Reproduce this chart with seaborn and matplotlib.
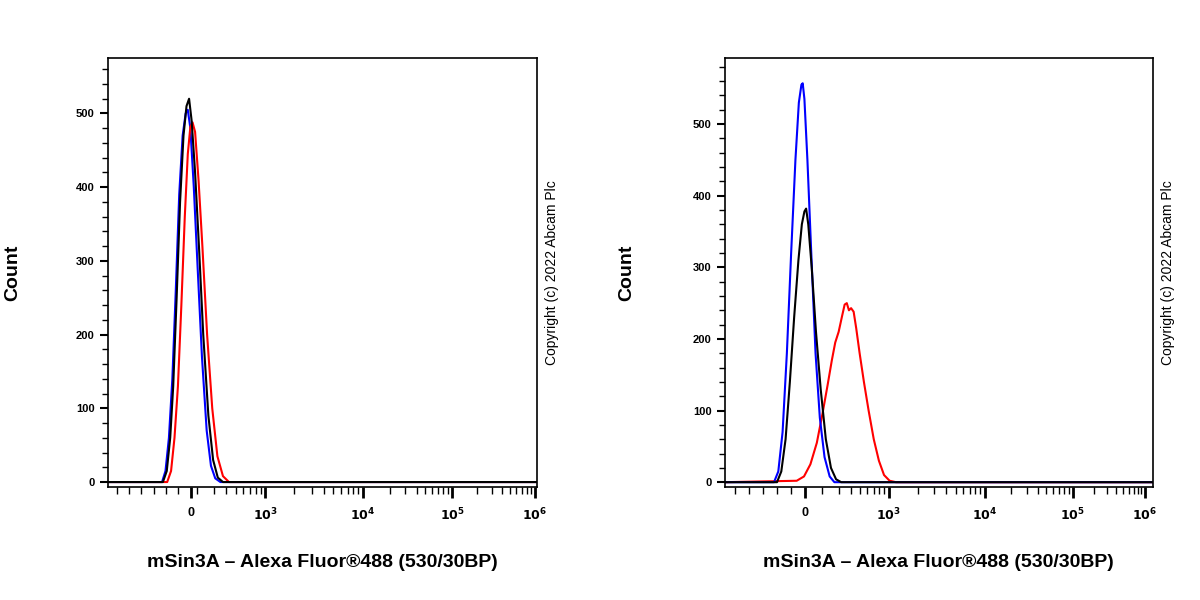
import numpy as np
import matplotlib
matplotlib.use("Agg")
import matplotlib.pyplot as plt
import seaborn as sns

sns.set_style("ticks", {"axes.edgecolor": "black", "xtick.color": "black", "ytick.color": "black",
                        "text.color": "black", "axes.labelcolor": "black"})
plt.rcParams["font.family"] = "Liberation Sans"

# x in fraction of axis width (biexponential display scale), y = Count
L_black_x = [0.0,0.128,0.137,0.145,0.152,0.160,0.168,0.176,0.183,0.189,0.195,0.203,0.212,0.222,0.234,0.245,0.256,0.268,1.0]
L_black_y = [0,0,15,60,130,250,380,470,510,520,490,420,320,200,90,30,6,0,0]
L_blue_x  = [0.0,0.126,0.134,0.142,0.150,0.158,0.166,0.174,0.181,0.186,0.192,0.200,0.209,0.219,0.230,0.240,0.250,0.262,1.0]
L_blue_y  = [0,0,15,60,140,260,390,470,500,505,480,400,290,170,70,22,5,0,0]
L_red_x   = [0.0,0.138,0.147,0.155,0.163,0.171,0.179,0.186,0.192,0.197,0.203,0.211,0.220,0.231,0.243,0.255,0.268,0.282,1.0]
L_red_y   = [0,0,15,60,130,240,360,445,482,488,475,410,320,200,100,35,8,0,0]

R_blue_x  = [0.0,0.115,0.125,0.135,0.145,0.155,0.165,0.173,0.179,0.182,0.186,0.193,0.202,0.212,0.222,0.233,0.245,0.256,1.0]
R_blue_y  = [0,0,15,70,180,320,450,530,555,557,535,450,320,180,90,35,8,0,0]
R_black_x = [0.0,0.122,0.132,0.142,0.152,0.162,0.172,0.180,0.186,0.190,0.195,0.203,0.213,0.224,0.236,0.248,0.260,0.272,1.0]
R_black_y = [0,0,15,60,140,230,310,360,378,382,360,300,210,130,60,20,4,0,0]
R_red_x   = [0.0,0.168,0.185,0.200,0.215,0.228,0.240,0.250,0.258,0.266,0.274,0.280,0.285,0.290,0.295,0.301,0.307,0.315,0.325,0.336,0.348,0.360,0.372,0.385,0.40,1.0]
R_red_y   = [0,2,8,25,55,95,135,170,195,210,232,248,250,240,243,238,215,180,140,100,60,30,10,2,0,0]

tick_labels = ["0", "$\\mathbf{10^3}$", "$\\mathbf{10^4}$", "$\\mathbf{10^5}$", "$\\mathbf{10^6}$"]
L_tick_pos = [0.193, 0.366, 0.594, 0.802, 0.995]
R_tick_pos = [0.187, 0.383, 0.607, 0.813, 0.981]
y_ticks = [0, 100, 200, 300, 400, 500]

fig = plt.figure(figsize=(12, 6), dpi=100)
axL = fig.add_axes([0.090, 0.188, 0.3575, 0.715])
axR = fig.add_axes([0.604, 0.188, 0.3567, 0.715])

def draw(ax, series, ticks, ymax, count_x):
    for xs, ys, c in series:
        sns.lineplot(x=xs, y=ys, color=c, lw=1.5, ax=ax, sort=False)
    ax.set_xlim(0, 1)
    ax.set_ylim(-7, ymax)
    ax.set_xticks(ticks)
    ax.set_xticklabels(tick_labels, fontsize=9, fontweight="bold")
    minors = []
    for a, b in zip(ticks[1:-1], ticks[2:]):
        for m in range(2, 10):
            minors.append(a + (b - a) * np.log10(m))
    d = ticks[2] - ticks[1]
    for m in range(2, 10):
        minors.append(ticks[1] - d * (1 - np.log10(m)))
    step = (ticks[1] - ticks[0]) / 6
    p = ticks[0] - step
    while p > 0.01:
        minors.append(p); p -= step
    minors = [v for v in minors if 0 < v < 1]
    ax.set_xticks(minors, minor=True)
    ax.set_yticks(y_ticks)
    ax.set_yticklabels([str(v) for v in y_ticks], fontsize=8, fontweight="bold")
    ax.set_yticks(np.arange(0, ymax, 20), minor=True)
    ax.tick_params(axis="x", which="major", length=8, width=2, pad=6)
    ax.tick_params(axis="x", which="minor", length=5, width=1)
    ax.tick_params(axis="y", which="major", length=6, width=1.5)
    ax.tick_params(axis="y", which="minor", length=4, width=1)
    for s in ax.spines.values():
        s.set_linewidth(1.2)
    ax.set_xlabel("mSin3A \u2013 Alexa Fluor\u00ae488 (530/30BP)", fontsize=14, fontweight="bold", labelpad=22)
    ax.set_ylabel("")
    fig.text(count_x, 0.545, "Count", rotation=90, va="center", ha="center", fontsize=14, fontweight="bold")
    ax.text(1.035, 0.5, "Copyright (c) 2022 Abcam Plc", transform=ax.transAxes,
            rotation=90, va="center", ha="center", fontsize=10)

draw(axL, [(L_blue_x, L_blue_y, "blue"), (L_red_x, L_red_y, "red"), (L_black_x, L_black_y, "black")], L_tick_pos, 575, 0.011)
draw(axR, [(R_red_x, R_red_y, "red"), (R_blue_x, R_blue_y, "blue"), (R_black_x, R_black_y, "black")], R_tick_pos, 592, 0.522)

fig.savefig("out.png", dpi=100)
